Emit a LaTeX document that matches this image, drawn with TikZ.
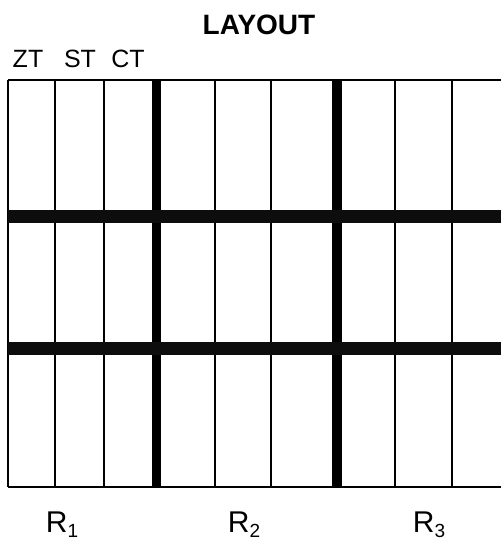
\documentclass[tikz,border=0pt]{standalone}
\usepackage{fontspec}
\setmainfont{Liberation Sans}
\usetikzlibrary{positioning}
\newcommand{\regsub}[1]{\raisebox{-5pt}{\fontsize{19}{19}\selectfont #1}}
\tikzset{
  thinline/.style={draw=black, line width=1.5pt},
  thickcol/.style={draw=black, line width=9.3pt},
  thickrow/.style={draw=black!95, line width=13pt},
  collabel/.style={anchor=base, inner sep=0pt, font=\fontsize{25}{28}\selectfont},
  reglabel/.style={anchor=base, inner sep=0pt, font=\fontsize{30}{34}\selectfont},
  titlelabel/.style={anchor=base, inner sep=0pt, font=\bfseries\fontsize{28}{32}\selectfont}
}

\begin{document}
\begin{tikzpicture}[x=1pt, y=-1pt]
\useasboundingbox (0,0) rectangle (501,544);

% Title and column heads
\node[titlelabel] (title) at (259,34) {LAYOUT};
\node[collabel] (zt) at (28,67) {ZT};
\node[collabel] (st) at (80,67) {ST};
\node[collabel] (ct) at (128,67) {CT};

% Grid: thin columns
\foreach \xx in {8,55,104,215,271,395,452}
  \draw[thinline] (\xx,80) -- (\xx,487);
\draw[thinline] (8,80) -- (501,80);
\draw[thinline] (8,487) -- (501,487);

% Grid: thick separators
\draw[thickcol] (156.3,80) -- (156.3,487);
\draw[thickcol] (337,80) -- (337,487);
\draw[thickrow] (8,216) -- (501,216);
\draw[thickrow] (8,348.7) -- (501,348.7);

% Region labels
\node[reglabel] (r1) at (62,532) {R\regsub{1}};
\node[reglabel] (r2) at (244,532) {R\regsub{2}};
\node[reglabel] (r3) at (429,532) {R\regsub{3}};

\end{tikzpicture}
\end{document}
